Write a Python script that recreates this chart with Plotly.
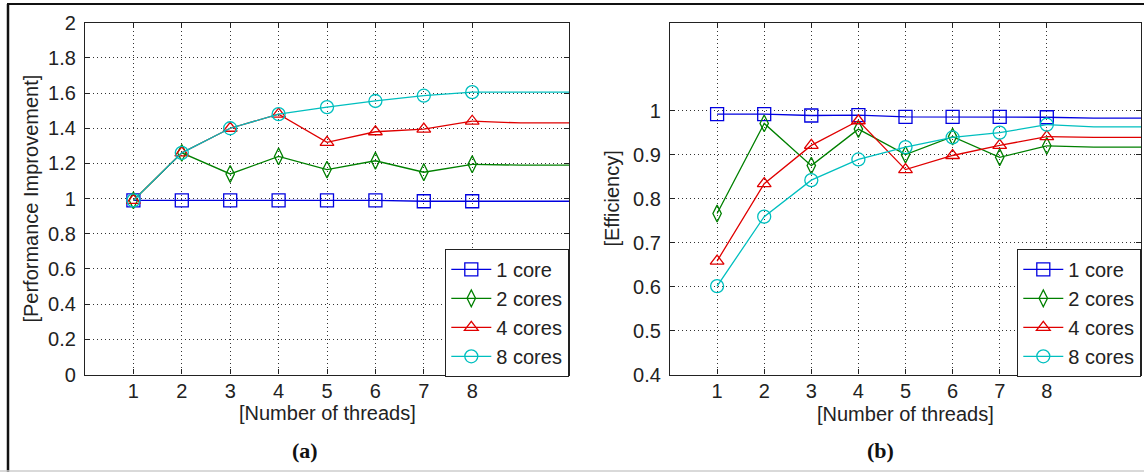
import plotly.graph_objects as go

# ---------------- data ----------------
threads = [1, 2, 3, 4, 5, 6, 7, 8]
ext_threads = [9, 10]
x_tick_labels = ["1", "2", "3", "4", "5", "6", "7", "8"]
series_names = ["1 core", "2 cores", "4 cores", "8 cores"]

# (a) Performance improvement
perf_1core = [0.99, 0.99, 0.99, 0.99, 0.99, 0.99, 0.985, 0.985]
perf_2cores = [0.99, 1.26, 1.14, 1.24, 1.165, 1.215, 1.15, 1.195]
perf_4cores = [0.99, 1.26, 1.40, 1.48, 1.32, 1.38, 1.395, 1.44]
perf_8cores = [0.99, 1.26, 1.40, 1.48, 1.52, 1.555, 1.585, 1.605]
perf_ext_1core = [0.985, 0.985]
perf_ext_2cores = [1.19, 1.19]
perf_ext_4cores = [1.43, 1.43]
perf_ext_8cores = [1.605, 1.605]
perf_y_ticks = [0, 0.2, 0.4, 0.6, 0.8, 1, 1.2, 1.4, 1.6, 1.8, 2]
perf_y_labels = ["0", "0.2", "0.4", "0.6", "0.8", "1", "1.2", "1.4", "1.6", "1.8", "2"]

# (b) Efficiency
eff_1core = [0.992, 0.992, 0.989, 0.990, 0.986, 0.986, 0.986, 0.985]
eff_2cores = [0.766, 0.971, 0.875, 0.958, 0.900, 0.941, 0.894, 0.920]
eff_4cores = [0.658, 0.834, 0.921, 0.977, 0.866, 0.898, 0.921, 0.941]
eff_8cores = [0.601, 0.759, 0.842, 0.889, 0.917, 0.939, 0.950, 0.968]
eff_ext_1core = [0.983, 0.983]
eff_ext_2cores = [0.917, 0.917]
eff_ext_4cores = [0.939, 0.939]
eff_ext_8cores = [0.963, 0.963]
eff_y_ticks = [0.4, 0.5, 0.6, 0.7, 0.8, 0.9, 1.0]
eff_y_labels = ["0.4", "0.5", "0.6", "0.7", "0.8", "0.9", "1"]

# ---------------- styles ----------------
colors = ["#0000E0", "#008000", "#E00000", "#00BFBF"]
symbols = ["square-open", "diamond-tall-open", "triangle-up-open", "circle-open"]
msizes = [13, 12, 12, 13]
FONT = "Liberation Sans, Arial, sans-serif"
TXT = "#222222"

W, H = 1144, 472


def px_x(p):
    return p / W


def px_y(p):
    return 1 - p / H


fig = go.Figure()

perf_series = [perf_1core, perf_2cores, perf_4cores, perf_8cores]
perf_ext = [perf_ext_1core, perf_ext_2cores, perf_ext_4cores, perf_ext_8cores]
eff_series = [eff_1core, eff_2cores, eff_4cores, eff_8cores]
eff_ext = [eff_ext_1core, eff_ext_2cores, eff_ext_4cores, eff_ext_8cores]

for panel, (series, exts, xa, ya, lg) in enumerate([
    (perf_series, perf_ext, "x", "y", "legend"),
    (eff_series, eff_ext, "x2", "y2", "legend2"),
]):
    for i in range(4):
        fig.add_trace(go.Scatter(
            x=[threads[-1]] + ext_threads, y=[series[i][-1]] + exts[i],
            mode="lines", line=dict(color=colors[i], width=1.3),
            showlegend=False, hoverinfo="skip", xaxis=xa, yaxis=ya))
        fig.add_trace(go.Scatter(
            x=threads, y=series[i], name=series_names[i],
            mode="lines+markers",
            line=dict(color=colors[i], width=1.3),
            marker=dict(symbol=symbols[i], size=msizes[i],
                        line=dict(color=colors[i], width=1.3)),
            xaxis=xa, yaxis=ya, legend=lg))

axis_common = dict(
    showline=True, linecolor=TXT, linewidth=1.3, mirror="ticks",
    ticks="inside", ticklen=5, tickcolor=TXT, tickwidth=1,
    showgrid=True, gridcolor="#333333", gridwidth=1, griddash="1px,3px",
    zeroline=False, tickfont=dict(family=FONT, size=20, color=TXT),
    automargin=False,
)

# panel geometry (pixels)
L1, R1 = 85, 569
L2, R2 = 670, 1141
TOP, BOT = 22.7, 374.5

legend_common = dict(
    xanchor="right", yanchor="bottom",
    bgcolor="white", bordercolor=TXT, borderwidth=1.3,
    font=dict(family=FONT, size=20, color=TXT),
    itemwidth=40, tracegroupgap=0,
)

fig.update_layout(
    width=W, height=H, autosize=False,
    margin=dict(l=0, r=0, t=0, b=0, pad=0, autoexpand=False),
    paper_bgcolor="white", plot_bgcolor="white",
    showlegend=True,
    xaxis=dict(domain=[px_x(L1), px_x(R1)], range=[0, 10],
               tickvals=threads, ticktext=x_tick_labels, anchor="y",
               ticklabelstandoff=-2, **axis_common),
    yaxis=dict(domain=[px_y(BOT), px_y(TOP)], range=[0, 2],
               tickvals=perf_y_ticks, ticktext=perf_y_labels, anchor="x",
               ticklabelstandoff=4, **axis_common),
    xaxis2=dict(domain=[px_x(L2), px_x(R2)], range=[0, 10],
                tickvals=threads, ticktext=x_tick_labels, anchor="y2",
                ticklabelstandoff=-2, **axis_common),
    yaxis2=dict(domain=[px_y(BOT), px_y(TOP)], range=[0.4, 1.2],
                tickvals=eff_y_ticks, ticktext=eff_y_labels, anchor="x2",
                ticklabelstandoff=4, **axis_common),
    legend=dict(x=px_x(R1), y=px_y(BOT + 3), **legend_common),
    legend2=dict(x=px_x(R2), y=px_y(BOT + 3), **legend_common),
)

annots = [
    dict(text="[Number of threads]", x=px_x((L1 + R1) / 2), y=px_y(413),
         xanchor="center", yanchor="middle", font=dict(size=20)),
    dict(text="[Number of threads]", x=px_x((L2 + R2) / 2), y=px_y(414),
         xanchor="center", yanchor="middle", font=dict(size=20)),
    dict(text="[Performance Improvement]", x=px_x(31), y=px_y((TOP + BOT) / 2),
         xanchor="center", yanchor="middle", textangle=-90, font=dict(size=20)),
    dict(text="[Efficiency]", x=px_x(612), y=px_y((TOP + BOT) / 2),
         xanchor="center", yanchor="middle", textangle=-90, font=dict(size=20)),
    dict(text="<b>(a)</b>", x=px_x(305), y=px_y(450), xanchor="center",
         yanchor="middle",
         font=dict(family="Liberation Serif, Times New Roman, serif", size=22, color="#111")),
    dict(text="<b>(b)</b>", x=px_x(880), y=px_y(450), xanchor="center",
         yanchor="middle",
         font=dict(family="Liberation Serif, Times New Roman, serif", size=22, color="#111")),
]
for a in annots:
    a.setdefault("font", {})
    a["font"].setdefault("family", FONT)
    a["font"].setdefault("color", TXT)
    fig.add_annotation(xref="paper", yref="paper", showarrow=False, **a)

# outer frame lines (top, left) and light bottom line
fig.add_shape(type="line", xref="paper", yref="paper",
              x0=px_x(7), x1=1, y0=px_y(4), y1=px_y(4),
              line=dict(color="#111", width=2))
fig.add_shape(type="line", xref="paper", yref="paper",
              x0=px_x(8), x1=px_x(8), y0=px_y(4), y1=0,
              line=dict(color="#111", width=2.5))
fig.add_shape(type="line", xref="paper", yref="paper",
              x0=0, x1=1, y0=px_y(471), y1=px_y(471),
              line=dict(color="#cccccc", width=1.5))

fig.write_html(
    "out.html",
    default_width="1144px", default_height="472px",
    config={"responsive": False, "displayModeBar": False},
    post_script="document.body.style.margin='0px';document.body.style.overflow='hidden';",
)
